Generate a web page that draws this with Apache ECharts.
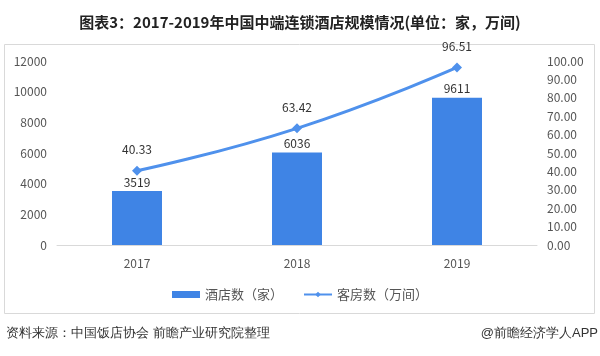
<!DOCTYPE html>
<html><head><meta charset="utf-8">
<script src="https://cdn.jsdelivr.net/npm/echarts@6/dist/echarts.min.js"></script>
<style>html,body{margin:0;padding:0;background:#fff}#c{width:600px;height:356px}</style>
</head><body><div id="c"></div>
<script>
const categories = ['2017', '2018', '2019'];
const hotels = [3519, 6036, 9611];
const rooms = [40.33, 63.42, 96.51];
const leftTicks = [0, 12000, 2000];
const rightTicks = [0, 100, 10];

const chart = echarts.init(document.getElementById('c'));
const font = '"Noto Sans CJK SC", "Microsoft YaHei", sans-serif';
chart.setOption({
  animation: false,
  textStyle: { fontFamily: font },
  title: {
    text: '图表3：2017-2019年中国中端连锁酒店规模情况(单位：家，万间)',
    left: 'center', top: 10,
    textStyle: { fontSize: 15, fontWeight: 'bold', color: '#222', fontFamily: font }
  },
  graphic: [
    { type: 'rect', shape: { x: 4.5, y: 44.5, width: 590, height: 269 }, style: { fill: 'none', stroke: '#d9d9d9', lineWidth: 1 }, z: -1 },
    { type: 'text', left: 6, top: 327, style: { text: '资料来源：中国饭店协会 前瞻产业研究院整理', fontSize: 13, fill: '#333', font: '13px ' + font } },
    { type: 'text', right: 2, top: 327, style: { text: '@前瞻经济学人APP', fontSize: 13, fill: '#333', font: '13px ' + font } }
  ],
  legend: {
    bottom: 50, itemGap: 20, itemWidth: 28, itemHeight: 7,
    textStyle: { fontSize: 13, color: '#555' },
    data: [{ name: '酒店数（家）', icon: 'rect' }, { name: '客房数（万间）' }]
  },
  grid: { left: 57, right: 63, top: 61, bottom: 111, containLabel: false },
  xAxis: {
    type: 'category', data: categories,
    axisLine: { lineStyle: { color: '#d9d9d9' } },
    axisTick: { show: false },
    axisLabel: { color: '#555', fontSize: 12, margin: 12 }
  },
  yAxis: [
    {
      type: 'value', min: leftTicks[0], max: leftTicks[1], interval: leftTicks[2],
      axisLine: { show: false }, axisTick: { show: false }, splitLine: { show: false },
      axisLabel: { color: '#555', fontSize: 12, margin: 10, formatter: v => String(v) }
    },
    {
      type: 'value', min: rightTicks[0], max: rightTicks[1], interval: rightTicks[2],
      axisLine: { show: false }, axisTick: { show: false }, splitLine: { show: false },
      axisLabel: { color: '#555', fontSize: 12, margin: 10, formatter: v => v.toFixed(2) }
    }
  ],
  series: [
    {
      name: '酒店数（家）', type: 'bar', data: hotels, barWidth: 50,
      itemStyle: { color: '#3f84e5' },
      label: { show: true, position: 'top', color: '#333', fontSize: 12, distance: 3 }
    },
    {
      name: '客房数（万间）', type: 'line', yAxisIndex: 1, data: rooms, smooth: true,
      symbol: 'diamond', symbolSize: 10,
      lineStyle: { color: '#4f91ec', width: 3 },
      itemStyle: { color: '#4f91ec' },
      label: { show: true, position: 'top', color: '#333', fontSize: 12, distance: 10, formatter: p => p.value.toFixed(2) }
    }
  ]
});
</script></body></html>
